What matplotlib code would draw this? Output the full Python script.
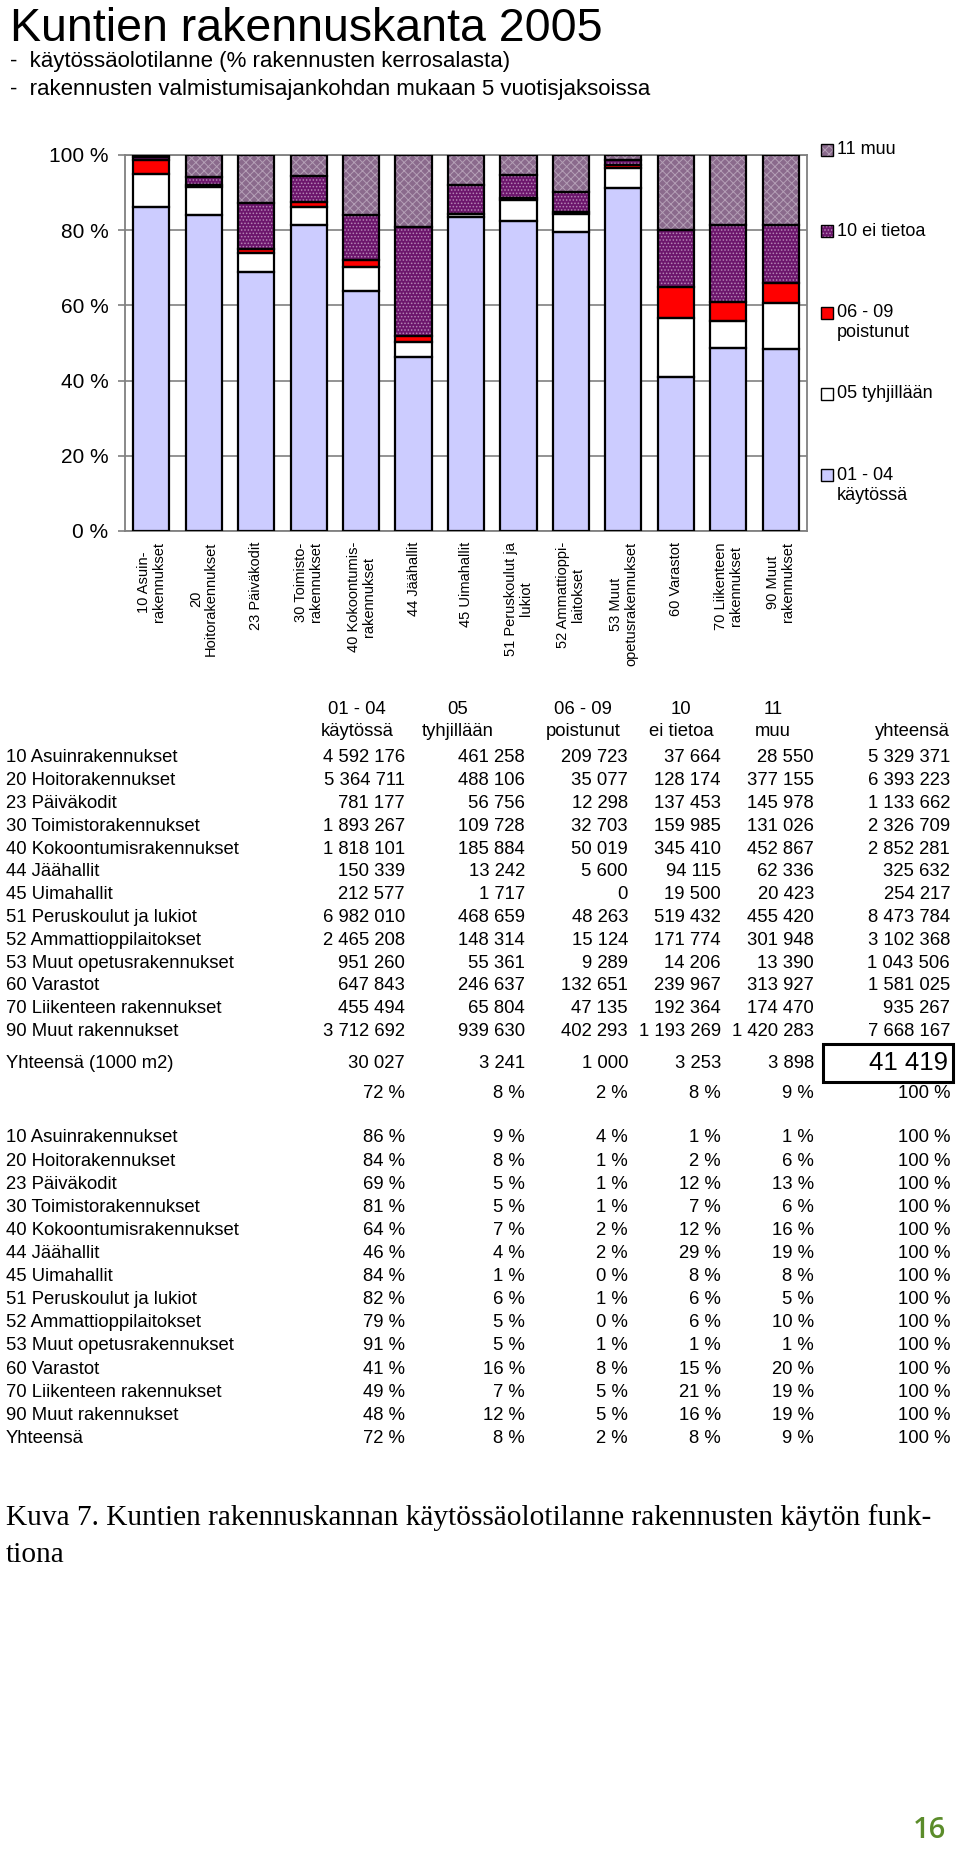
import numpy as np
import matplotlib.pyplot as plt
from matplotlib.patches import Rectangle

plt.rcParams['font.family'] = ['Liberation Sans', 'DejaVu Sans']
plt.rcParams['hatch.linewidth'] = 0.7

W, H = 960, 1872

# --- data -----------------------------------------------------------------
bar_labels = ['10 Asuin-\nrakennukset', '20\nHoitorakennukset', '23 Päiväkodit',
              '30 Toimisto-\nrakennukset', '40 Kokoontumis-\nrakennukset', '44 Jäähallit',
              '45 Uimahallit', '51 Peruskoulut ja\nlukiot', '52 Ammattioppi-\nlaitokset',
              '53 Muut\nopetusrakennukset', '60 Varastot', '70 Liikenteen\nrakennukset',
              '90 Muut\nrakennukset']
row_names = ['10 Asuinrakennukset', '20 Hoitorakennukset', '23 Päiväkodit',
             '30 Toimistorakennukset', '40 Kokoontumisrakennukset', '44 Jäähallit',
             '45 Uimahallit', '51 Peruskoulut ja lukiot', '52 Ammattioppilaitokset',
             '53 Muut opetusrakennukset', '60 Varastot', '70 Liikenteen rakennukset',
             '90 Muut rakennukset']
kaytossa = [4592176, 5364711, 781177, 1893267, 1818101, 150339, 212577,
            6982010, 2465208, 951260, 647843, 455494, 3712692]
tyhjillaan = [461258, 488106, 56756, 109728, 185884, 13242, 1717,
              468659, 148314, 55361, 246637, 65804, 939630]
poistunut = [209723, 35077, 12298, 32703, 50019, 5600, 0,
             48263, 15124, 9289, 132651, 47135, 402293]
ei_tietoa = [37664, 128174, 137453, 159985, 345410, 94115, 19500,
             519432, 171774, 14206, 239967, 192364, 1193269]
muu = [28550, 377155, 145978, 131026, 452867, 62336, 20423,
       455420, 301948, 13390, 313927, 174470, 1420283]

series_names = ['01 - 04\nkäytössä', '05 tyhjillään', '06 - 09\npoistunut',
                '10 ei tietoa', '11 muu']
head_top = ['01 - 04', '05', '06 - 09', '10', '11']
head_bottom = ['käytössä', 'tyhjillään', 'poistunut', 'ei tietoa', 'muu']

# face, hatch, hatch colour
styles = [('#ccccff', None, '#ccccff'),
          ('white', None, 'white'),
          ('#ff0000', None, '#ff0000'),
          ('#6c166c', '.....', '#b585b5'),
          ('#8a6a8c', 'xxxx', '#b49fb6')]

data = np.array([kaytossa, tyhjillaan, poistunut, ei_tietoa, muu], dtype=float)
row_tot = data.sum(axis=0)
shares = data / row_tot * 100
col_tot = data.sum(axis=1)
grand = col_tot.sum()


def fx(x):
    return x / W


def fy(y):
    return 1 - y / H


def fmt(n):
    return f"{int(n):,}".replace(",", " ")


def pct(v):
    return f"{int(v + 0.5)} %"


fig = plt.figure(figsize=(W / 100, H / 100), dpi=100)

# titles
fig.text(fx(10), fy(41), 'Kuntien rakennuskanta 2005', fontsize=33.5, va='baseline')
fig.text(fx(10), fy(62), '-  käytössäolotilanne (% rakennusten kerrosalasta)', fontsize=16, va='center')
fig.text(fx(10), fy(90), '-  rakennusten valmistumisajankohdan mukaan 5 vuotisjaksoissa', fontsize=16, va='center')

# --- chart ----------------------------------------------------------------
ax = fig.add_axes([fx(125), fy(531), 682 / W, 376 / H])
x = np.arange(len(bar_labels))
bottom = np.zeros(len(x))
for s, (face, hatch, hc) in zip(shares, styles):
    ax.bar(x, s, 0.69, bottom=bottom, color=face, hatch=hatch, edgecolor=hc,
           linewidth=0, zorder=2)
    ax.bar(x, s, 0.69, bottom=bottom, fill=False, edgecolor='black',
           linewidth=1.6, zorder=3)
    bottom += s

ax.set_xlim(-0.5, len(x) - 0.5)
ax.set_ylim(0, 100)
ax.set_yticks(range(0, 101, 20))
ax.set_yticklabels([f"{v} %" for v in range(0, 101, 20)])
ax.set_xticks(x)
ax.set_xticklabels(bar_labels, rotation=90, ha='center', va='top',
                   multialignment='center', linespacing=1.1)
ax.yaxis.grid(True, color='#808080', linewidth=1.2, zorder=0)
ax.set_axisbelow(True)
for sp in ax.spines.values():
    sp.set_color('#808080')
    sp.set_linewidth(1.3)
ax.tick_params(axis='y', length=5, color='#808080', width=1.2, pad=7, labelsize=15)
ax.tick_params(axis='x', length=0, pad=8, labelsize=10.5)

# legend (top entry = last series)
for k, j in enumerate(range(len(series_names) - 1, -1, -1)):
    y = 150 + 81.25 * k
    face, hatch, hc = styles[j]
    fig.add_artist(Rectangle((fx(821), fy(y + 6)), 12 / W, 12 / H, transform=fig.transFigure,
                             facecolor=face, hatch=hatch, edgecolor=hc, linewidth=0))
    fig.add_artist(Rectangle((fx(821), fy(y + 6)), 12 / W, 12 / H, transform=fig.transFigure,
                             fill=False, edgecolor='black', linewidth=1))
    for n, line in enumerate(series_names[j].split('\n')):
        fig.text(fx(837), fy(y + 20 * n), line, fontsize=13, va='center')

# --- table ----------------------------------------------------------------
tsize = 13.3
col_right = [405, 525, 628, 721, 814]
head_center = [357, 458, 583, 681, 773]
for c in range(5):
    fig.text(fx(head_center[c]), fy(710), head_top[c], fontsize=tsize, ha='center', va='center')
    fig.text(fx(head_center[c]), fy(732), head_bottom[c], fontsize=tsize, ha='center', va='center')
fig.text(fx(950), fy(732), 'yhteensä', fontsize=tsize, ha='right', va='center')

for r, name in enumerate(row_names):
    y = 758 + 22.8 * r
    fig.text(fx(6), fy(y), name, fontsize=tsize, va='center')
    for c in range(5):
        fig.text(fx(col_right[c]), fy(y), fmt(data[c, r]), fontsize=tsize, ha='right', va='center')
    fig.text(fx(950), fy(y), fmt(row_tot[r]), fontsize=tsize, ha='right', va='center')

fig.text(fx(6), fy(1064), 'Yhteensä (1000 m2)', fontsize=tsize, va='center')
for c in range(5):
    fig.text(fx(col_right[c]), fy(1064), fmt(round(col_tot[c] / 1000)), fontsize=tsize,
             ha='right', va='center')
    fig.text(fx(col_right[c]), fy(1093), pct(col_tot[c] / grand * 100), fontsize=tsize,
             ha='right', va='center')
fig.text(fx(948), fy(1063), fmt(round(grand / 1000)), fontsize=18.5, ha='right', va='center')
fig.text(fx(950), fy(1093), '100 %', fontsize=tsize, ha='right', va='center')
fig.add_artist(Rectangle((fx(823), fy(1082)), 130 / W, 38 / H, transform=fig.transFigure,
                         fill=False, edgecolor='black', linewidth=2.2))

pct_rows = row_names + ['Yhteensä']
pct_vals = np.column_stack([shares, col_tot / grand * 100])
for r, name in enumerate(pct_rows):
    y = 1138 + 23.1 * r
    fig.text(fx(6), fy(y), name, fontsize=tsize, va='center')
    for c in range(5):
        fig.text(fx(col_right[c]), fy(y), pct(pct_vals[c, r]), fontsize=tsize, ha='right', va='center')
    fig.text(fx(950), fy(y), '100 %', fontsize=tsize, ha='right', va='center')

# caption and page number
fig.text(fx(6), fy(1525), 'Kuva 7. Kuntien rakennuskannan käytössäolotilanne rakennusten käytön funk-',
         fontsize=21.2, family='Liberation Serif', va='baseline')
fig.text(fx(6), fy(1562), 'tiona', fontsize=21.2, family='Liberation Serif', va='baseline')
fig.text(fx(929), fy(1830), '16', fontsize=21, family='Open Sans', color='#5b8c2a',
         ha='center', va='center', weight='semibold')

fig.savefig('out.png', dpi=100)
